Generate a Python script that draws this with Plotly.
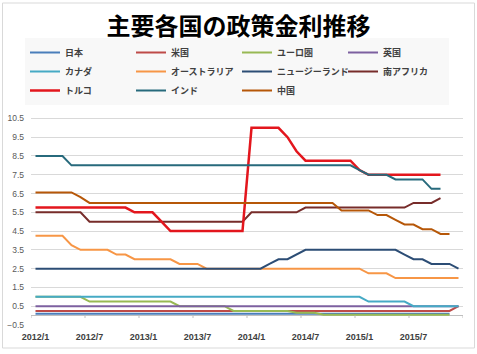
import plotly.graph_objects as go

months = ["2012/1","2012/2","2012/3","2012/4","2012/5","2012/6","2012/7","2012/8","2012/9","2012/10","2012/11","2012/12",
          "2013/1","2013/2","2013/3","2013/4","2013/5","2013/6","2013/7","2013/8","2013/9","2013/10","2013/11","2013/12",
          "2014/1","2014/2","2014/3","2014/4","2014/5","2014/6","2014/7","2014/8","2014/9","2014/10","2014/11","2014/12",
          "2015/1","2015/2","2015/3","2015/4","2015/5","2015/6","2015/7","2015/8","2015/9","2015/10","2015/11","2015/12"]

tick_labels = ["2012/1","2012/7","2013/1","2013/7","2014/1","2014/7","2015/1","2015/7"]
boundary_idx = [-0.5, 5.5, 11.5, 17.5, 23.5, 29.5, 35.5, 41.5, 47.5]

japan = [0.1,0.1,0.1,0.1,0.1,0.1,0.1,0.1,0.1,0.1,0.1,0.1,
         0.1,0.1,0.1,0.1,0.1,0.1,0.1,0.1,0.1,0.1,0.1,0.1,
         0.1,0.1,0.1,0.1,0.1,0.1,0.1,0.1,0.1,0.1,0.1,0.1,
         0.1,0.1,0.1,0.1,0.1,0.1,0.1,0.1,0.1,0.1,0.1,None]
usa = [0.25,0.25,0.25,0.25,0.25,0.25,0.25,0.25,0.25,0.25,0.25,0.25,
       0.25,0.25,0.25,0.25,0.25,0.25,0.25,0.25,0.25,0.25,0.25,0.25,
       0.25,0.25,0.25,0.25,0.25,0.25,0.25,0.25,0.25,0.25,0.25,0.25,
       0.25,0.25,0.25,0.25,0.25,0.25,0.25,0.25,0.25,0.25,0.25,0.5]
euro = [1.0,1.0,1.0,1.0,1.0,1.0,0.75,0.75,0.75,0.75,0.75,0.75,
        0.75,0.75,0.75,0.75,0.5,0.5,0.5,0.5,0.5,0.5,0.25,0.25,
        0.25,0.25,0.25,0.25,0.25,0.15,0.15,0.15,0.05,0.05,0.05,0.05,
        0.05,0.05,0.05,0.05,0.05,0.05,0.05,0.05,0.05,0.05,0.05,None]
uk = [0.5,0.5,0.5,0.5,0.5,0.5,0.5,0.5,0.5,0.5,0.5,0.5,
      0.5,0.5,0.5,0.5,0.5,0.5,0.5,0.5,0.5,0.5,0.5,0.5,
      0.5,0.5,0.5,0.5,0.5,0.5,0.5,0.5,0.5,0.5,0.5,0.5,
      0.5,0.5,0.5,0.5,0.5,0.5,0.5,0.5,0.5,0.5,0.5,0.5]
canada = [1.0,1.0,1.0,1.0,1.0,1.0,1.0,1.0,1.0,1.0,1.0,1.0,
          1.0,1.0,1.0,1.0,1.0,1.0,1.0,1.0,1.0,1.0,1.0,1.0,
          1.0,1.0,1.0,1.0,1.0,1.0,1.0,1.0,1.0,1.0,1.0,1.0,
          1.0,0.75,0.75,0.75,0.75,0.75,0.5,0.5,0.5,0.5,0.5,0.5]
australia = [4.25,4.25,4.25,4.25,3.75,3.5,3.5,3.5,3.5,3.25,3.25,3.0,
             3.0,3.0,3.0,3.0,2.75,2.75,2.75,2.5,2.5,2.5,2.5,2.5,
             2.5,2.5,2.5,2.5,2.5,2.5,2.5,2.5,2.5,2.5,2.5,2.5,
             2.5,2.25,2.25,2.25,2.0,2.0,2.0,2.0,2.0,2.0,2.0,2.0]
newzealand = [2.5,2.5,2.5,2.5,2.5,2.5,2.5,2.5,2.5,2.5,2.5,2.5,
              2.5,2.5,2.5,2.5,2.5,2.5,2.5,2.5,2.5,2.5,2.5,2.5,
              2.5,2.5,2.75,3.0,3.0,3.25,3.5,3.5,3.5,3.5,3.5,3.5,
              3.5,3.5,3.5,3.5,3.5,3.25,3.0,3.0,2.75,2.75,2.75,2.5]
southafrica = [5.5,5.5,5.5,5.5,5.5,5.5,5.0,5.0,5.0,5.0,5.0,5.0,
               5.0,5.0,5.0,5.0,5.0,5.0,5.0,5.0,5.0,5.0,5.0,5.0,
               5.5,5.5,5.5,5.5,5.5,5.5,5.75,5.75,5.75,5.75,5.75,5.75,
               5.75,5.75,5.75,5.75,5.75,5.75,6.0,6.0,6.0,6.25,None,None]
turkey = [5.75,5.75,5.75,5.75,5.75,5.75,5.75,5.75,5.75,5.75,5.75,5.5,
          5.5,5.5,5.0,4.5,4.5,4.5,4.5,4.5,4.5,4.5,4.5,4.5,
          10.0,10.0,10.0,10.0,9.5,8.75,8.25,8.25,8.25,8.25,8.25,8.25,
          7.75,7.5,7.5,7.5,7.5,7.5,7.5,7.5,7.5,7.5,None,None]
india = [8.5,8.5,8.5,8.5,8.0,8.0,8.0,8.0,8.0,8.0,8.0,8.0,
         8.0,8.0,8.0,8.0,8.0,8.0,8.0,8.0,8.0,8.0,8.0,8.0,
         8.0,8.0,8.0,8.0,8.0,8.0,8.0,8.0,8.0,8.0,8.0,8.0,
         7.75,7.5,7.5,7.5,7.25,7.25,7.25,7.25,6.75,6.75,None,None]
china = [6.56,6.56,6.56,6.56,6.56,6.31,6.0,6.0,6.0,6.0,6.0,6.0,
         6.0,6.0,6.0,6.0,6.0,6.0,6.0,6.0,6.0,6.0,6.0,6.0,
         6.0,6.0,6.0,6.0,6.0,6.0,6.0,6.0,6.0,6.0,5.6,5.6,
         5.6,5.6,5.35,5.35,5.1,4.85,4.85,4.6,4.6,4.35,4.35,None]

series_names = ["日本","米国","ユーロ圏","英国","カナダ","オーストラリア","ニュージーランド","南アフリカ","トルコ","インド","中国"]
series_values = [japan, usa, euro, uk, canada, australia, newzealand, southafrica, turkey, india, china]
series_colors = ["#4A7EBB","#BE4B48","#98B954","#7D60A0","#46AAC5","#F79646","#2C4D75","#772C2A","#E3161D","#276A7C","#B65708"]
series_widths = [2, 2, 2, 2, 2, 2, 2, 2, 2.5, 2, 2]

fig = go.Figure()
for name, vals, col, w in zip(series_names, series_values, series_colors, series_widths):
    fig.add_trace(go.Scatter(x=months, y=vals, name=name, mode="lines",
                             line=dict(color=col, width=w), connectgaps=False))

# tick marks hanging from the zero line between categories
for b in boundary_idx:
    fig.add_shape(type="line", xref="x", yref="y", x0=b, x1=b, y0=0, y1=-0.13,
                  line=dict(color="#BFBFBF", width=1))

# chart-area border
fig.add_shape(type="rect", xref="paper", yref="paper",
              x0=-0.066, x1=1.0266, y0=-0.1065, y1=1.4907,
              line=dict(color="#D9D9D9", width=1))

fig.update_layout(
    width=477, height=354,
    margin=dict(l=31, r=14, t=109, b=29, autoexpand=False),
    paper_bgcolor="white", plot_bgcolor="white",
    title=dict(text="<b>主要各国の政策金利推移</b>", x=0.5, xref="container", xanchor="center",
               y=1 - 27 / 354, yref="container", yanchor="middle",
               font=dict(family="Noto Sans CJK JP", size=24, color="#000000")),
    legend=dict(orientation="h", xref="container", yref="container",
                x=25 / 477, y=1 - 38 / 354, xanchor="left", yanchor="top",
                entrywidth=61, entrywidthmode="pixels",
                bgcolor="#F8F8F8", itemwidth=30,
                font=dict(family="Noto Sans CJK JP", size=9, color="#404040", weight="bold"),
                itemclick=False),
    showlegend=True,
)

fig.update_xaxes(type="category", categoryorder="array", categoryarray=months,
                 range=[-0.5, 47.5], tickmode="array", tickvals=tick_labels, ticktext=tick_labels,
                 showgrid=False, showline=False, zeroline=False, ticks="",
                 ticklabelstandoff=5,
                 tickfont=dict(family="Liberation Sans", size=9, color="#404040", weight="bold"))

fig.update_yaxes(range=[-0.5, 11], tick0=-0.5, dtick=1, tickmode="linear",
                 tickformat=".1f",
                 showgrid=True, gridcolor="#D9D9D9", gridwidth=1,
                 zeroline=True, zerolinecolor="#BFBFBF", zerolinewidth=1,
                 showline=False, ticks="", ticklabelstandoff=6,
                 tickfont=dict(family="Liberation Sans", size=8.5, color="#595959"))

fig.write_html("out.html")
